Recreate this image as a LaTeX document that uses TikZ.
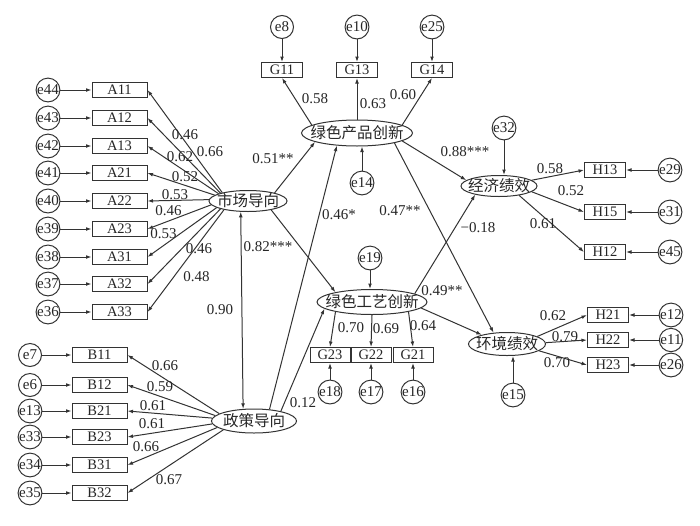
\documentclass[tikz,border=0pt]{standalone}
\usepackage{fontspec}
\setmainfont{Liberation Serif}
\newfontfamily\cjk{Noto Sans CJK SC}
\usetikzlibrary{shapes.geometric,arrows.meta}
\definecolor{ln}{HTML}{333333}
\definecolor{txt}{HTML}{262626}
\begin{document}
\begin{tikzpicture}[x=1pt,y=-1pt,
  line/.style={draw=ln, line width=1pt},
  arr/.style={line, -{Latex[length=5.5pt,width=3.8pt]}},
  darr/.style={line, {Latex[length=5.5pt,width=3.8pt]}-{Latex[length=5.5pt,width=3.8pt]}},
  err/.style={circle, draw=ln, line width=1pt, minimum size=23pt, inner sep=0pt, text=txt, font=\fontsize{15}{15}\selectfont},
  obs/.style={rectangle, draw=ln, line width=1pt, minimum width=41pt, minimum height=15pt, inner sep=0pt, text=txt, font=\fontsize{14.5}{14.5}\selectfont},
  wide/.style={minimum width=55pt},
  lat/.style={ellipse, draw=ln, line width=1pt, inner sep=0pt},
  lattext/.style={inner sep=0pt, text=txt, font=\cjk\fontsize{15.5}{16}\selectfont},
  num/.style={inner sep=0pt, text=txt, font=\fontsize{15}{15}\selectfont},
]
\useasboundingbox (0,0) rectangle (700,525);
\fill[white] (0,0) rectangle (700,525);

% latent variables
\node[lat, minimum width=78pt, minimum height=21pt] (ma) at (248,201) {};
\node[lattext] (mat) at (ma) {市场导向};
\node[lat, minimum width=85pt, minimum height=24pt] (zc) at (254,421) {};
\node[lattext] (zct) at (zc) {政策导向};
\node[lat, minimum width=111pt, minimum height=26pt] (gp) at (357,133) {};
\node[lattext] (gpt) at (gp) {绿色产品创新};
\node[lat, minimum width=110pt, minimum height=25pt] (gt) at (372,302) {};
\node[lattext] (gtt) at (gt) {绿色工艺创新};
\node[lat, minimum width=76pt, minimum height=21pt] (jj) at (499,186) {};
\node[lattext] (jjt) at (jj) {经济绩效};
\node[lat, minimum width=77pt, minimum height=23pt] (hj) at (507,344) {};
\node[lattext] (hjt) at (hj) {环境绩效};

% A indicators
\foreach \n/\e/\y/\ang in {A11/e44/90/162, A12/e43/118/164, A13/e42/146/166, A21/e41/173/170, A22/e40/201/178, A23/e39/229/186, A31/e38/257/192, A32/e37/284/196, A33/e36/312/200}{
  \node[obs, wide] (\n) at (119.5,\y) {\n};
  \node[err] (\e) at (48,\y) {\e};
  \draw[arr] (\e) -- (\n.west);
  \draw[arr] (ma.\ang) -- (\n.east);
}
% B indicators
\foreach \n/\e/\y/\ang in {B11/e7/355/168, B12/e6/385/172, B21/e13/411/176, B23/e33/437/184, B31/e34/465/190, B32/e35/493/196}{
  \node[obs, wide] (\n) at (99.5,\y) {\n};
  \node[err] (\e) at (30,\y) {\e};
  \draw[arr] (\e) -- (\n.west);
  \draw[arr] (zc.\ang) -- (\n.east);
}
% G top
\foreach \n/\e/\x in {G11/e8/282, G13/e10/357, G14/e25/432}{
  \node[obs] (\n) at (\x,70) {\n};
  \node[err] (\e) at (\x,27) {\e};
  \draw[arr] (\e) -- (\n.north);
}
\draw[arr] (gp.170) -- (G11.south);
\draw[arr] (gp.north) -- (G13.south);
\draw[arr] (gp.10) -- (G14.south);
% G bottom
\foreach \n/\e/\x in {G23/e18/330, G22/e17/371, G21/e16/413}{
  \node[obs, minimum width=40pt] (\n) at (\x,355) {\n};
  \node[err] (\e) at (\x,392) {\e};
  \draw[arr] (\e) -- (\n.south);
}
\draw[arr] (gt.195) -- (G23.north);
\draw[arr] (gt.south) -- (G22.north);
\draw[arr] (gt.-15) -- (G21.north);
% H indicators
\foreach \n/\e/\y in {H13/e29/170, H15/e31/212, H12/e45/252}{
  \node[obs] (\n) at (605,\y) {\n};
  \node[err] (\e) at (670,\y) {\e};
  \draw[arr] (\e) -- (\n.east);
}
\draw[arr] (jj.10) -- (H13.west);
\draw[arr] (jj.-10) -- (H15.west);
\draw[arr] (jj.-25) -- (H12.west);
\foreach \n/\e/\y in {H21/e12/315, H22/e11/340, H23/e26/365}{
  \node[obs] (\n) at (608,\y) {\n};
  \node[err] (\e) at (671,\y) {\e};
  \draw[arr] (\e) -- (\n.east);
}
\draw[arr] (hj.14) -- (H21.west);
\draw[arr] (hj.2) -- (H22.west);
\draw[arr] (hj.-12) -- (H23.west);

% structural errors
\node[err] (e14) at (362,183) {e14};
\node[err] (e32) at (504,128) {e32};
\node[err] (e19) at (370,258) {e19};
\node[err] (e15) at (513,395) {e15};
\draw[arr] (e14) -- (e14 |- gp.south);
\draw[arr] (e32) -- (e32 |- jj.north);
\draw[arr] (e19) -- (e19 |- gt.north);
\draw[arr] (e15) -- (e15 |- hj.south);

% structural paths
\draw[arr] (ma.17) -- (gp.192);
\draw[arr] (ma.-21) -- (gt.165);
\draw[darr] (ma.236) -- (zc.132);
\draw[arr] (zc.37) -- (gp.212);
\draw[arr] (zc.20) -- (gt.188);
\draw[arr] (gp.-10) -- (jj.170);
\draw[arr] (gp.-15) -- (hj.140);
\draw[arr] (gt.11) -- (jj.200);
\draw[arr] (gt.-7) -- (hj.160);

% labels
\node[num] (la1) at (185,135) {0.46};
\node[num] (la2) at (210,152) {0.66};
\node[num] (la3) at (180,157) {0.62};
\node[num] (la4) at (185,177) {0.52};
\node[num] (la5) at (175,195) {0.53};
\node[num] (la6) at (168.5,211) {0.46};
\node[num] (la7) at (163.5,234) {0.53};
\node[num] (la8) at (199,249) {0.46};
\node[num] (la9) at (196.5,277) {0.48};
\node[num] (lb1) at (165,366) {0.66};
\node[num] (lb2) at (160,387) {0.59};
\node[num] (lb3) at (153,406) {0.61};
\node[num] (lb4) at (152,424) {0.61};
\node[num] (lb5) at (146,447) {0.66};
\node[num] (lb6) at (169,480) {0.67};
\node[num] (lg1) at (315,99) {0.58};
\node[num] (lg2) at (373,104) {0.63};
\node[num] (lg3) at (403,95) {0.60};
\node[num] (lg4) at (351,328) {0.70};
\node[num] (lg5) at (386,329) {0.69};
\node[num] (lg6) at (423,326) {0.64};
\node[num] (ls1) at (273,159) {0.51**};
\node[num] (ls2) at (339,215) {0.46*};
\node[num] (ls3) at (400,211) {0.47**};
\node[num] (ls4) at (268,247) {0.82***};
\node[num] (ls5) at (220,310) {0.90};
\node[num] (ls6) at (442,291) {0.49**};
\node[num] (ls7) at (303,403) {0.12};
\node[num] (ls8) at (465,152) {0.88***};
\node[num] (ls9) at (478,228) {−0.18};
\node[num] (lh1) at (550,169) {0.58};
\node[num] (lh2) at (571,191) {0.52};
\node[num] (lh3) at (543,224) {0.61};
\node[num] (lh4) at (553,316) {0.62};
\node[num] (lh5) at (565,337) {0.79};
\node[num] (lh6) at (557,363) {0.70};
\end{tikzpicture}
\end{document}
